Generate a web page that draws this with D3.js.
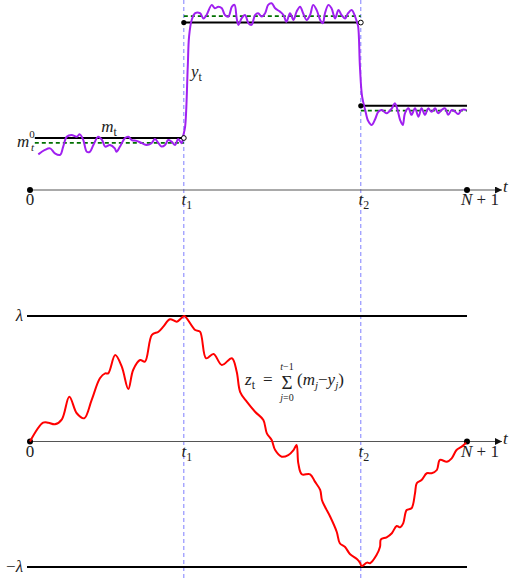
<!DOCTYPE html>
<html><head><meta charset="utf-8">
<script src="https://cdn.jsdelivr.net/npm/d3@7/dist/d3.min.js"></script>
<style>body{margin:0;background:#fff}svg{display:block}svg text{font-family:"Liberation Serif","Times New Roman",Times,"DejaVu Serif",serif !important}</style>
</head><body>
<svg id="c" width="511" height="581"></svg>
<script>
// ---------- data ----------
const tickValues = [0, 35.2, 75.7, 100];
const tickLabels = [["0"], ["t","1"], ["t","2"], ["N","+ 1"]];
const breakpoints = [35.2, 75.7];
const lambda = 1;
// piecewise-constant estimated mean m_t
const mLevels = [[1.1, 35.2, 2.0], [35.2, 75.7, 6.44], [75.7, 100, 3.24]];
// true mean (green dashed)
const trueLevels = [[1.1, 35.2, 1.81], [35.2, 75.7, 6.69], [75.7, 100, 3.05]];
// observations y_t  [t, value]
const ySeries = [[1.9,1.37],[3.4,1.54],[4.6,1.60],[5.7,1.41],[6.9,1.35],[7.6,1.67],[8.4,2.05],[9.5,2.12],[10.7,2.05],[11.4,2.14],[12.2,1.92],[13.0,1.47],[13.7,1.47],[14.5,1.73],[15.6,2.05],[16.5,1.92],[17.2,1.67],[18.3,1.73],[19.4,1.60],[19.8,1.47],[20.6,1.67],[21.7,1.99],[22.5,2.05],[23.3,1.92],[24.4,1.89],[25.6,1.80],[26.7,1.73],[27.8,1.80],[28.6,1.96],[29.4,1.80],[30.1,1.67],[30.9,1.73],[31.6,1.92],[32.4,1.86],[33.2,1.73],[33.9,1.96],[34.7,1.80],[35.1,2.12],
[35.5,2.44],[36.1,4.74],[36.4,5.90],[37.0,6.54],[37.8,6.80],[38.9,6.80],[39.7,6.60],[40.4,6.73],[41.6,7.12],[42.3,6.99],[43.1,7.05],[43.9,6.99],[44.6,6.73],[45.4,6.67],[46.2,7.05],[46.8,7.12],[47.3,6.60],[47.7,6.35],[48.4,6.60],[49.2,6.73],[50.0,6.41],[50.7,6.35],[51.5,6.73],[52.2,6.80],[53.0,6.67],[53.8,6.80],[54.5,7.12],[55.3,7.18],[56.1,6.99],[57.2,6.86],[58.0,6.73],[58.7,6.47],[59.5,6.80],[60.3,6.54],[61.0,6.86],[61.8,7.05],[62.5,6.80],[63.3,6.54],[64.1,6.73],[64.8,7.12],[65.6,6.92],[66.4,6.54],[67.0,6.41],[67.5,6.80],[68.3,7.12],[69.0,6.99],[69.8,6.60],[70.6,6.92],[71.3,6.73],[72.1,6.60],[72.8,6.80],[73.6,6.92],[74.4,6.67],[74.8,6.47],[75.1,6.28],
[75.5,4.74],[76.0,3.59],[76.7,3.08],[77.4,2.65],[78.2,2.50],[79.0,2.73],[79.7,3.01],[80.5,3.08],[81.6,2.95],[82.8,3.14],[83.5,3.34],[84.1,3.08],[84.7,2.69],[85.3,2.50],[85.8,2.95],[86.6,3.14],[87.3,2.89],[88.1,3.14],[88.9,2.82],[89.6,3.14],[90.4,2.89],[91.1,3.14],[91.9,3.01],[92.7,3.14],[93.4,2.95],[94.2,3.08],[95.0,3.14],[95.7,2.89],[96.5,3.08],[97.3,3.01],[98.0,2.92],[98.8,3.08],[99.9,3.08]];
// cumulative statistic z_t  [t, value] (in units of lambda)
const zSeries = [[0,0],[3.0,0.150],[4.2,0.150],[5.7,0.137],[7.3,0.177],[9.0,0.357],[10.7,0.225],[12.4,0.185],[14.1,0.330],[16.0,0.504],[17.2,0.543],[17.9,0.543],[19.5,0.689],[21.0,0.596],[22.5,0.418],[23.6,0.570],[25.2,0.649],[26.3,0.636],[27.9,0.849],[29.4,0.875],[30.5,0.915],[32.0,0.974],[33.6,0.955],[34.6,0.982],[35.3,1.0],[37.8,0.888],[38.9,0.875],[40.3,0.663],[42.0,0.697],[43.9,0.610],[46.2,0.663],[47.3,0.556],[48.1,0.394],[49.6,0.317],[51.5,0.237],[53.4,0.171],[54.2,0.065],[55.3,0.012],[56.1,-0.068],[57.6,-0.121],[59.1,-0.108],[60.3,-0.068],[61.0,-0.028],[61.4,-0.174],[62.2,-0.261],[64.1,-0.261],[65.2,-0.320],[66.4,-0.386],[66.8,-0.466],[67.5,-0.520],[68.7,-0.600],[70.2,-0.721],[70.9,-0.811],[72.1,-0.841],[73.2,-0.896],[74.8,-0.936],[75.5,-0.965],[75.9,-0.992],[77.1,-0.965],[77.8,-0.970],[79.3,-0.904],[80.1,-0.838],[80.3,-0.779],[81.6,-0.763],[82.8,-0.731],[83.9,-0.673],[84.7,-0.684],[85.4,-0.652],[86.2,-0.546],[87.3,-0.532],[88.1,-0.413],[88.5,-0.333],[89.6,-0.307],[90.8,-0.253],[91.9,-0.253],[93.1,-0.227],[93.8,-0.147],[95.4,-0.161],[96.5,-0.134],[97.6,-0.068],[98.8,-0.041],[99.8,-0.010]];

// ---------- drawing ----------
const svg = d3.select("#c");
const x = d3.scaleLinear().domain([0, 100]).range([30, 467]);
const yT = d3.scaleLinear().domain([0, 7]).range([190, 8]);
const zS = d3.scaleLinear().domain([-lambda, lambda]).range([567, 316]);
const INK = "#222";

svg.append("defs").append("marker").attr("id","arr").attr("viewBox","0 0 10 10")
  .attr("refX",10).attr("refY",5).attr("markerWidth",9).attr("markerHeight",7)
  .attr("markerUnits","userSpaceOnUse").attr("orient","auto")
  .append("path").attr("d","M0,0L10,5L0,10z").attr("fill","#111");

// vertical dashed lines
breakpoints.forEach(b => svg.append("line").attr("x1",x(b)).attr("x2",x(b)).attr("y1",0).attr("y2",581)
  .attr("stroke","#6f6fff").attr("stroke-width",0.9).attr("stroke-dasharray","4,3"));

function mathLabel(g, px, py, parts, size, anchor){
  const t = g.append("text").attr("x",px).attr("y",py).attr("font-size",size).attr("fill",INK).attr("text-anchor",anchor||"middle");
  t.append("tspan").attr("font-style", /^[0-9]/.test(parts[0]) ? "normal":"italic").text(parts[0]);
  if(parts[1]!==undefined){
    if(parts[0]==="N") t.append("tspan").attr("font-style","normal").text(" "+parts[1]);
    else t.append("tspan").attr("font-size",size*0.7).attr("dy",size*0.25).text(parts[1]);
  }
  return t;
}

function axis(py){
  const g = svg.append("g");
  g.append("line").attr("x1",x(0)).attr("x2",502).attr("y1",py).attr("y2",py)
   .attr("stroke","#555").attr("stroke-width",1).attr("marker-end","url(#arr)");
  [0,100].forEach(v => g.append("circle").attr("cx",x(v)).attr("cy",py).attr("r",3).attr("fill","#000"));
  tickValues.forEach((v,i) => {
    const p = tickLabels[i];
    if(p[0]==="N") mathLabel(g, x(v)-6, py+15, p, 17, "start");
    else mathLabel(g, x(v)+(p[1]?3:0), py+15, p, 17, "middle");
  });
  g.append("text").attr("x",503).attr("y",py+2).attr("font-size",17).attr("fill",INK).attr("font-style","italic").text("t");
}
axis(yT(0));
axis(zS(0));

// ---- top panel ----
const lineT = d3.line().x(d=>x(d[0])).y(d=>yT(d[1])).curve(d3.curveCatmullRom.alpha(0.5));
trueLevels.forEach(l => svg.append("line").attr("x1",x(l[0])).attr("x2",x(l[1])).attr("y1",yT(l[2])).attr("y2",yT(l[2]))
  .attr("stroke","#007000").attr("stroke-width",1.8).attr("stroke-dasharray","4,3"));
mLevels.forEach(l => svg.append("line").attr("x1",x(l[0])).attr("x2",x(l[1])).attr("y1",yT(l[2])).attr("y2",yT(l[2]))
  .attr("stroke","#000").attr("stroke-width",2));
svg.append("path").attr("d",lineT(ySeries)).attr("fill","none").attr("stroke","#a020f0").attr("stroke-width",2);
mLevels.forEach((l,i) => {
  if(i>0) svg.append("circle").attr("cx",x(l[0])).attr("cy",yT(l[2])).attr("r",2.6).attr("fill","#000");
  if(i<mLevels.length-1) svg.append("circle").attr("cx",x(l[1])).attr("cy",yT(l[2])).attr("r",2.4).attr("fill","#fff").attr("stroke","#000").attr("stroke-width",1);
});
// labels
const m0 = svg.append("text").attr("x",17).attr("y",147).attr("font-size",17).attr("fill",INK);
m0.append("tspan").attr("font-style","italic").text("m");
m0.append("tspan").attr("font-size",11).attr("dy",-9).text("0");
m0.append("tspan").attr("font-size",11).attr("font-style","italic").attr("x",31).attr("dy",13).text("t");
mathLabel(svg, 109, 132, ["m","t"], 17, "middle");
mathLabel(svg, 191, 77, ["y","t"], 17, "start");

// ---- bottom panel ----
[lambda, -lambda].forEach(v => svg.append("line").attr("x1",27).attr("x2",x(100)).attr("y1",zS(v)).attr("y2",zS(v))
  .attr("stroke","#000").attr("stroke-width",2));
svg.append("text").attr("x",23).attr("y",zS(lambda)+5).attr("font-size",17).attr("fill",INK).attr("text-anchor","end").attr("font-style","italic").text("λ");
const ml = svg.append("text").attr("x",23).attr("y",zS(-lambda)+5).attr("font-size",17).attr("fill",INK).attr("text-anchor","end");
ml.append("tspan").text("−"); ml.append("tspan").attr("font-style","italic").text("λ");
const lineZ = d3.line().x(d=>x(d[0])).y(d=>zS(d[1])).curve(d3.curveCatmullRom.alpha(0.5));
svg.append("path").attr("d",lineZ(zSeries)).attr("fill","none").attr("stroke","#ff0000").attr("stroke-width",2);

// formula
const f = svg.append("g");
mathLabel(f, 245, 385, ["z","t"], 17, "start");
f.append("text").attr("x",263).attr("y",385).attr("font-size",17).attr("fill",INK).text("=");
f.append("text").attr("x",287).attr("y",389).attr("font-size",19).attr("fill",INK).attr("text-anchor","middle").text("Σ");
const sup = f.append("text").attr("x",287).attr("y",370).attr("font-size",10).attr("fill",INK).attr("text-anchor","middle");
sup.append("tspan").attr("font-style","italic").text("t"); sup.append("tspan").text("−1");
const sub = f.append("text").attr("x",287).attr("y",401).attr("font-size",10).attr("fill",INK).attr("text-anchor","middle");
sub.append("tspan").attr("font-style","italic").text("j"); sub.append("tspan").text("=0");
const par = f.append("text").attr("x",297).attr("y",385).attr("font-size",17).attr("fill",INK);
par.append("tspan").text("(");
par.append("tspan").attr("font-style","italic").text("m");
par.append("tspan").attr("font-style","italic").attr("font-size",11).attr("dy",4).text("j");
par.append("tspan").attr("dy",-4).text("−");
par.append("tspan").attr("font-style","italic").text("y");
par.append("tspan").attr("font-style","italic").attr("font-size",11).attr("dy",4).text("j");
par.append("tspan").attr("dy",-4).text(")");
</script>
</body></html>
